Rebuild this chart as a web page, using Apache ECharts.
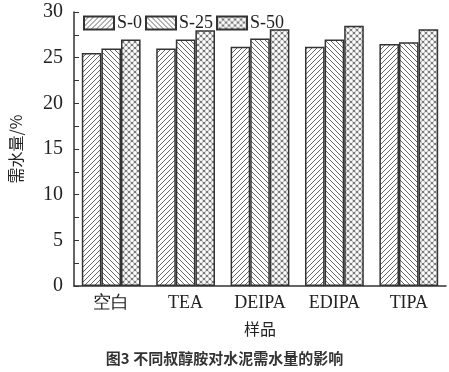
<!DOCTYPE html>
<html><head><meta charset="utf-8">
<script src="https://cdn.jsdelivr.net/npm/echarts@6/dist/echarts.min.js"></script>
<style>html,body{margin:0;padding:0;background:#fff}#c{width:449px;height:372px}</style>
</head><body><div id="c"></div>
<script>
const categories = ['空白', 'TEA', 'DEIPA', 'EDIPA', 'TIPA'];
const seriesNames = ['S-0', 'S-25', 'S-50'];
const s0 = [25.5, 26.0, 26.2, 26.2, 26.5];
const s25 = [26.0, 27.0, 27.1, 27.0, 26.7];
const s50 = [27.0, 28.0, 28.1, 28.5, 28.1];
const yTicks = [0, 5, 10, 15, 20, 25, 30];

function hatch(dir) {
  const s = 5;
  const c = document.createElement('canvas');
  c.width = s; c.height = s;
  const g = c.getContext('2d');
  g.fillStyle = '#fff'; g.fillRect(0, 0, s, s);
  g.strokeStyle = '#666'; g.lineWidth = 1;
  g.beginPath();
  if (dir > 0) {
    g.moveTo(-1, s + 1); g.lineTo(s + 1, -1);
    g.moveTo(-1, 1); g.lineTo(1, -1);
    g.moveTo(s - 1, s + 1); g.lineTo(s + 1, s - 1);
  } else {
    g.moveTo(-1, -1); g.lineTo(s + 1, s + 1);
    g.moveTo(s - 1, -1); g.lineTo(s + 1, 1);
    g.moveTo(-1, s - 1); g.lineTo(1, s + 1);
  }
  g.stroke();
  return { image: c, repeat: 'repeat' };
}
function dots() {
  const s = 6;
  const c = document.createElement('canvas');
  c.width = s; c.height = s;
  const g = c.getContext('2d');
  g.fillStyle = '#7a7a7a'; g.fillRect(0, 0, s, s);
  g.fillStyle = '#fff';
  const pts = [[3, 3], [0, 0], [6, 0], [0, 6], [6, 6]];
  pts.forEach(p => { g.beginPath(); g.arc(p[0], p[1], 1.9, 0, Math.PI * 2); g.fill(); });
  return { image: c, repeat: 'repeat' };
}
const fills = [hatch(1), hatch(-1), dots()];
const data = [s0, s25, s50];

const chart = echarts.init(document.getElementById('c'), null, { renderer: 'canvas' });
chart.setOption({
  animation: false,
  backgroundColor: '#fff',
  title: {
    text: '图3 不同叔醇胺对水泥需水量的影响',
    left: 'center', top: 346,
    textStyle: { fontFamily: 'Noto Sans CJK SC', fontSize: 15, fontWeight: 'bold', color: '#333' }
  },
  legend: {
    left: 78, top: 9, itemWidth: 30, itemHeight: 13, itemGap: 3,
    icon: 'rect',
    textStyle: { fontFamily: '"Liberation Serif", serif', fontSize: 18, color: '#222', padding: [0, 0, 0, -2] },
    data: seriesNames
  },
  grid: { left: 66, right: 3, top: 12, bottom: 86, containLabel: false },
  xAxis: {
    type: 'category', data: categories,
    name: '样品', nameLocation: 'middle', nameGap: 35,
    nameTextStyle: { fontFamily: 'Noto Sans CJK SC', fontSize: 16, color: '#222' },
    axisLine: { lineStyle: { color: '#333', width: 1.5 } },
    axisTick: { show: false },
    axisLabel: { fontFamily: '"Liberation Serif", serif', fontSize: 18, color: '#222', margin: 8 }
  },
  yAxis: {
    type: 'value', min: 0, max: 30, interval: 2.5,
    name: '需水量/%', nameLocation: 'middle', nameGap: 50, nameRotate: 90,
    nameTextStyle: { fontFamily: 'Noto Sans CJK SC', fontSize: 16, color: '#222' },
    axisLine: { show: true, lineStyle: { color: '#333', width: 1.5 } },
    axisTick: { show: true, inside: true, length: 5, lineStyle: { color: '#333', width: 1 } },
    splitLine: { show: false },
    axisLabel: {
      fontFamily: '"Liberation Serif", serif', fontSize: 20, color: '#222', margin: 11,
      formatter: v => (yTicks.indexOf(v) >= 0 ? String(v) : '')
    }
  },
  series: seriesNames.map((n, i) => ({
    name: n, type: 'bar', data: data[i],
    barGap: '0%', barCategoryGap: '21%',
    itemStyle: { color: fills[i], borderColor: '#333', borderWidth: 1.5 }
  }))
});
</script></body></html>
